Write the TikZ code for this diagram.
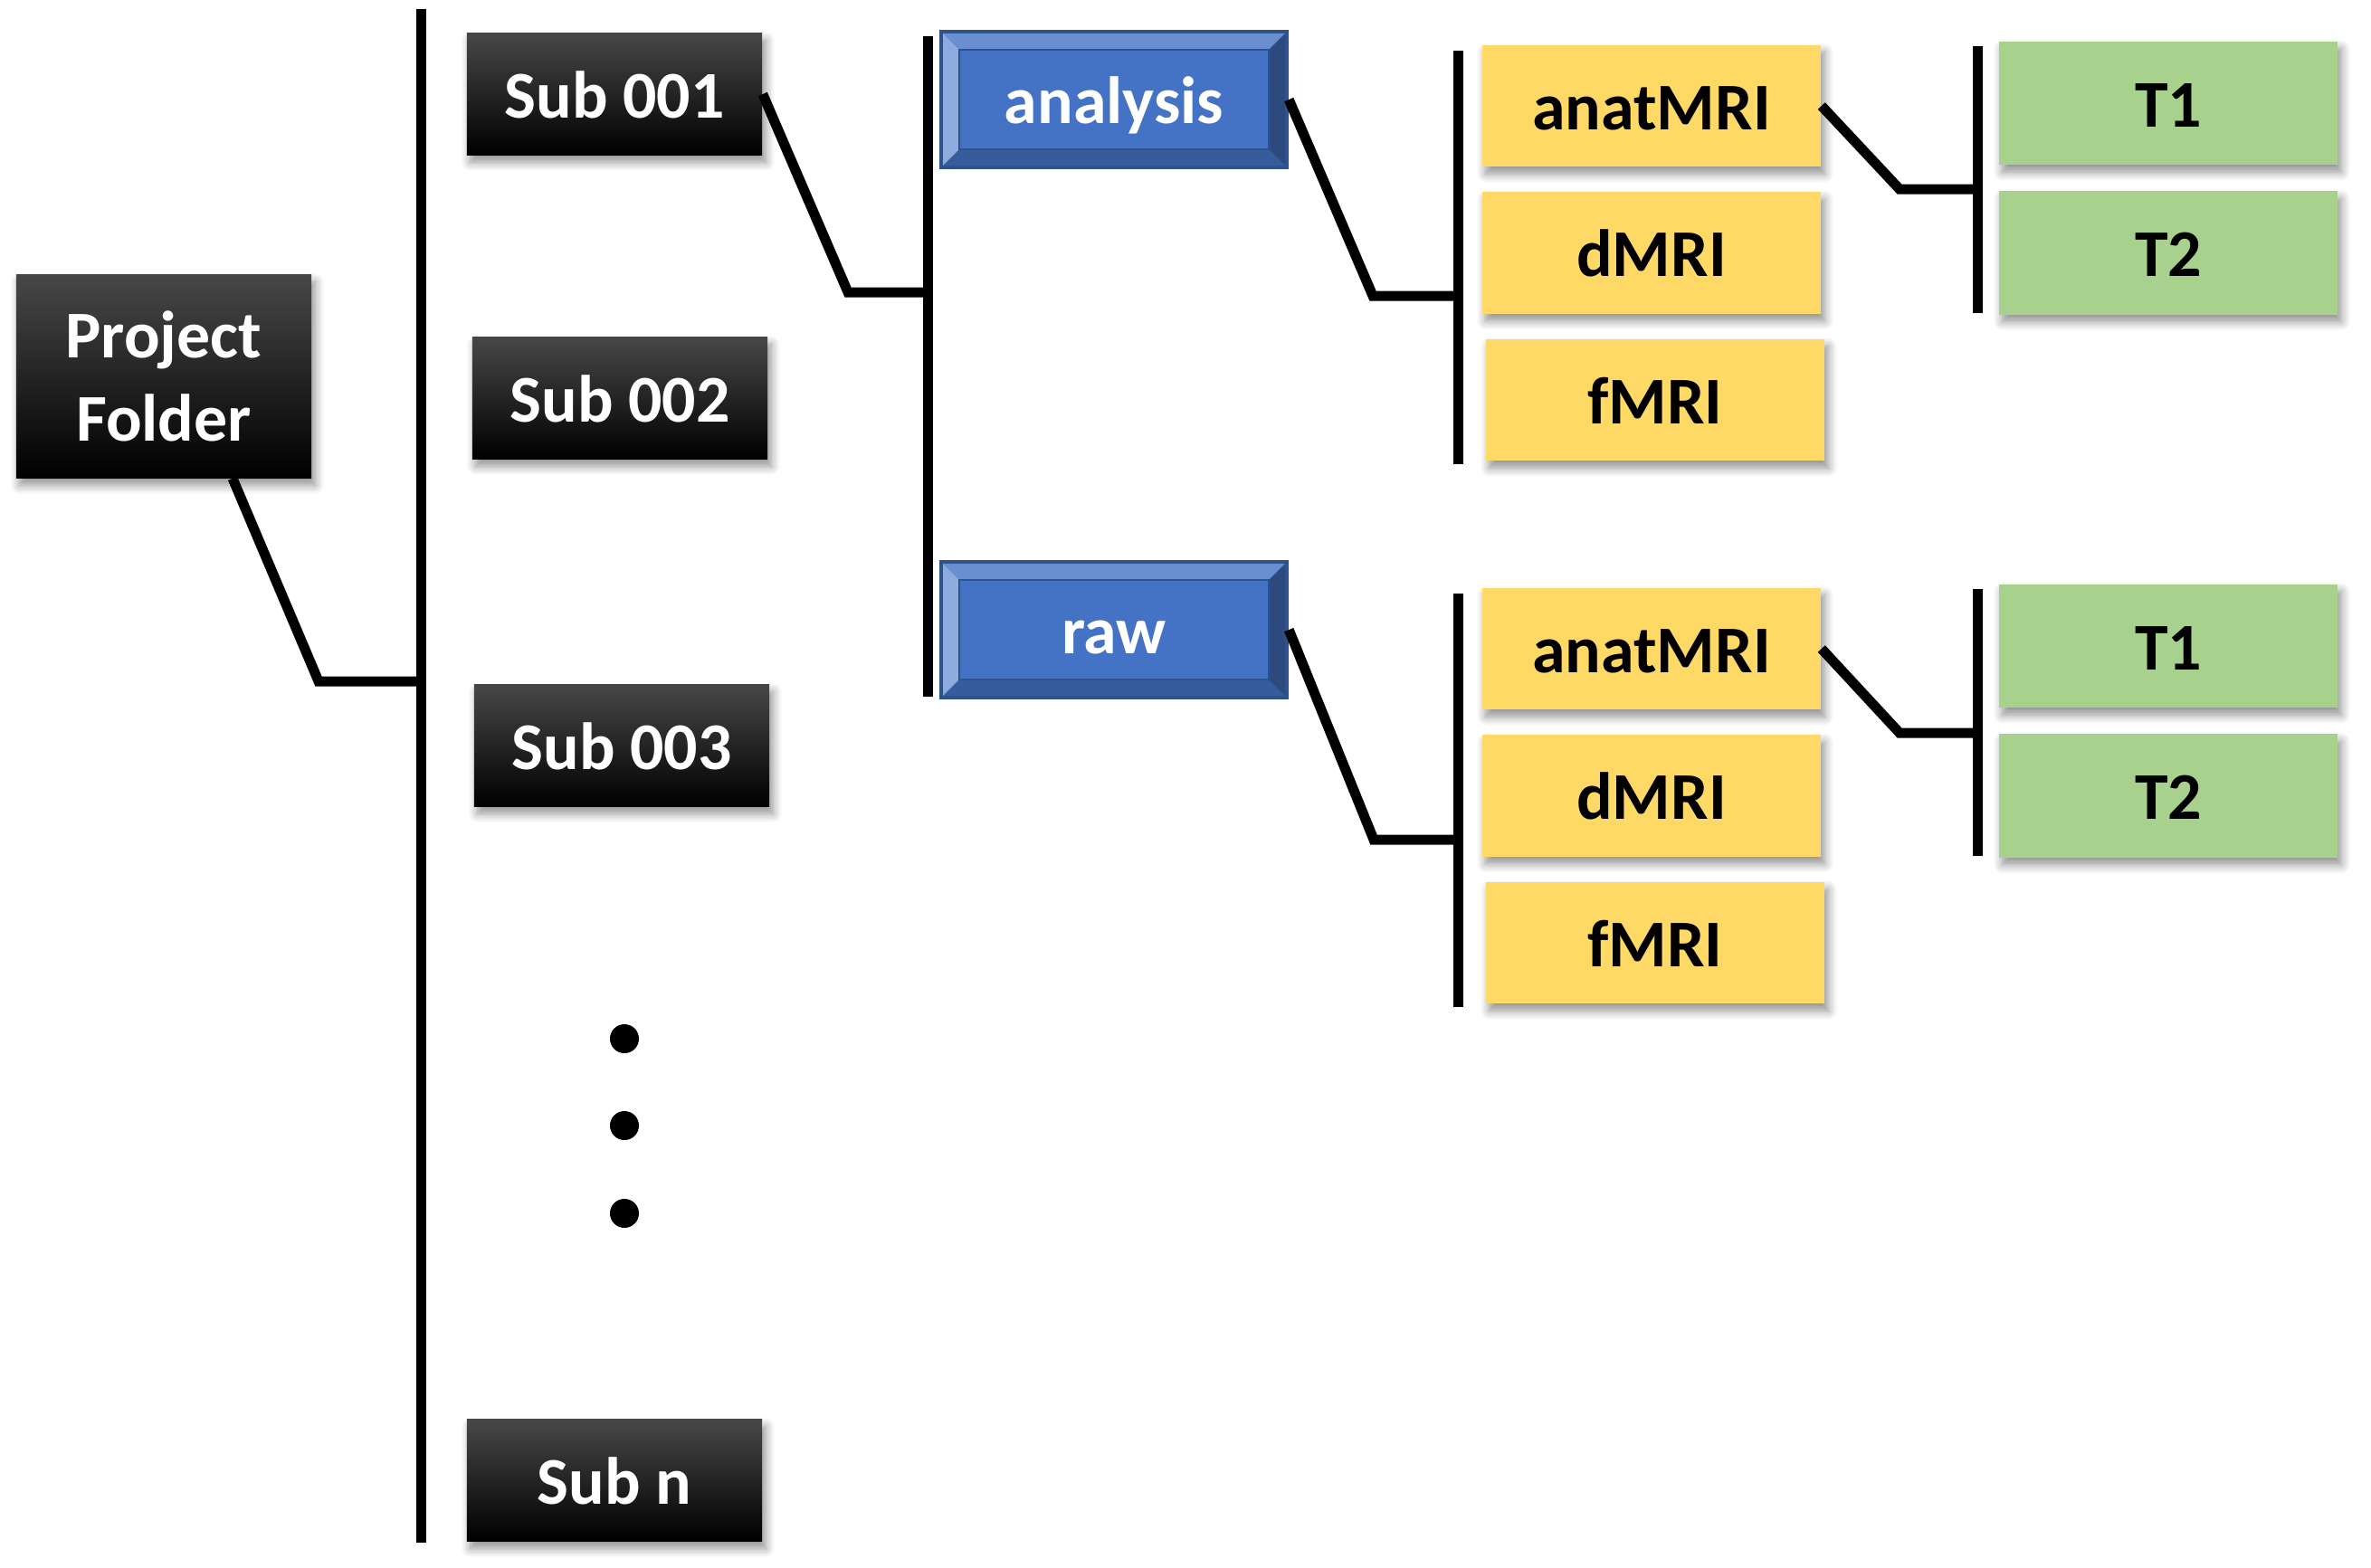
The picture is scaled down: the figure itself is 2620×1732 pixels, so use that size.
\documentclass[tikz,border=0pt]{standalone}
\usepackage{fontspec}
\setmainfont{Carlito}
\usetikzlibrary{positioning,shadows.blur}
\definecolor{gold}{HTML}{FFD966}
\definecolor{sage}{HTML}{A9D18E}
\definecolor{royal}{HTML}{4472C4}
\definecolor{royaledge}{HTML}{2F528F}
\definecolor{bevleft}{HTML}{8FAADC}
\definecolor{bevtop}{HTML}{6A8FD0}
\definecolor{bevright}{HTML}{2C4A7E}
\definecolor{bevlow}{HTML}{365C9C}
\newcommand{\ppb}{path picture bounding box}
\newcommand{\bevelpaint}{%
  \fill[bevtop] (\ppb.north west) -- (\ppb.north east) -- ([shift={(-2mm,-2mm)}]\ppb.north east) -- ([shift={(2mm,-2mm)}]\ppb.north west) -- cycle;
  \fill[bevlow] (\ppb.south west) -- (\ppb.south east) -- ([shift={(-2mm,2mm)}]\ppb.south east) -- ([shift={(2mm,2mm)}]\ppb.south west) -- cycle;
  \fill[bevleft] (\ppb.north west) -- (\ppb.south west) -- ([shift={(2mm,2mm)}]\ppb.south west) -- ([shift={(2mm,-2mm)}]\ppb.north west) -- cycle;
  \fill[bevright] (\ppb.north east) -- (\ppb.south east) -- ([shift={(-2mm,2mm)}]\ppb.south east) -- ([shift={(-2mm,-2mm)}]\ppb.north east) -- cycle;
  \draw[royaledge,line width=0.6pt] ([shift={(2mm,-2mm)}]\ppb.north west) rectangle ([shift={(-2mm,2mm)}]\ppb.south east);}
\tikzset{softshadow/.style={blur shadow={shadow xshift=0.04cm,shadow yshift=-0.08cm,shadow blur radius=0.1cm,shadow blur steps=8,shadow opacity=45}},
  label21/.style={font=\bfseries\fontsize{21}{26}\selectfont,inner sep=0pt,text height=15pt,text depth=0pt},
  folder/.style={label21,softshadow,top color=black!72,middle color=black,bottom color=black,text=white,minimum width=3.26cm,minimum height=1.34cm},
  bevelbox/.style={label21,fill=royal,draw=royaledge,line width=1.2pt,text=white,minimum width=3.82cm,minimum height=1.5cm,path picture={\bevelpaint}},
  modality/.style={label21,softshadow,fill=gold,minimum width=3.74cm,minimum height=1.34cm},
  weighting/.style={label21,softshadow,fill=sage,minimum width=3.74cm,minimum height=1.36cm},
  conn/.style={line width=0.11cm},
  dot/.style={circle,fill=black,inner sep=0pt,minimum size=0.32cm}}

\begin{document}
\begin{tikzpicture}[x=0.01cm,y=-0.01cm,node distance=0.27cm]
\useasboundingbox (0,0) rectangle (2620,1732);
% left column
\node[folder,minimum height=2.24cm,text height=,text depth=,align=center] (proj) at (181,416) {Project\\Folder};
\node[folder] (sub1) at (679,104) {Sub 001};
\node[folder] (sub2) at (685,440) {Sub 002};
\node[folder] (sub3) at (687,824) {Sub 003};
\node[folder] (subn) at (679,1636) {Sub n};
\node[dot] (d1) at (690,1148) {};\node[dot] (d2) at (690,1244) {};\node[dot] (d3) at (690,1341) {};
% session folders
\node[bevelbox] (ana) at (1231,110) {analysis};
\node[bevelbox] (raw) at (1231,696) {raw};
\node[modality] (anat1) at (1825,117) {anatMRI};
\node[modality,below=of anat1] (dmri1) {dMRI};
\node[modality,below=of dmri1,xshift=0.04cm] (fmri1) {fMRI};
\node[modality] (anat2) at (1825,717) {anatMRI};
\node[modality,below=of anat2] (dmri2) {dMRI};
\node[modality,below=of dmri2,xshift=0.04cm] (fmri2) {fMRI};
\node[weighting] (t1a) at (2396,114) {T1};
\node[weighting,below=0.28cm of t1a] (t2a) {T2};
\node[weighting] (t1b) at (2396,714) {T1};
\node[weighting,below=0.28cm of t1b] (t2b) {T2};
% buses
\coordinate (b1t) at (465,10);\coordinate (b1b) at (465,1705);
\coordinate (b2t) at (1025,40);\coordinate (b2b) at (1025,770);
\coordinate (b3t) at (1611,56);\coordinate (b3b) at (1611,513);
\coordinate (b4t) at (1611,656);\coordinate (b4b) at (1611,1113);
\coordinate (b5t) at (2185,51);\coordinate (b5b) at (2185,346);
\coordinate (b6t) at (2185,651);\coordinate (b6b) at (2185,946);
\foreach \u/\v in {b1t/b1b,b2t/b2b,b3t/b3b,b4t/b4b,b5t/b5b,b6t/b6b} \draw[conn] (\u) -- (\v);
\coordinate (k1) at (352,753);\coordinate (k2) at (937,323);\coordinate (k3) at (1517,327);
\coordinate (k4) at (1518,928);\coordinate (k5) at (2099,209);\coordinate (k6) at (2099,810);
\draw[conn] ([xshift=0.76cm]proj.south) -- (k1) -- (k1 -| b1t);
\draw[conn] (sub1.east) -- (k2) -- (k2 -| b2t);
\draw[conn] (ana.east) -- (k3) -- (k3 -| b3t);
\draw[conn] (raw.east) -- (k4) -- (k4 -| b4t);
\draw[conn] (anat1.east) -- (k5) -- (k5 -| b5t);
\draw[conn] (anat2.east) -- (k6) -- (k6 -| b6t);
\end{tikzpicture}
\end{document}
